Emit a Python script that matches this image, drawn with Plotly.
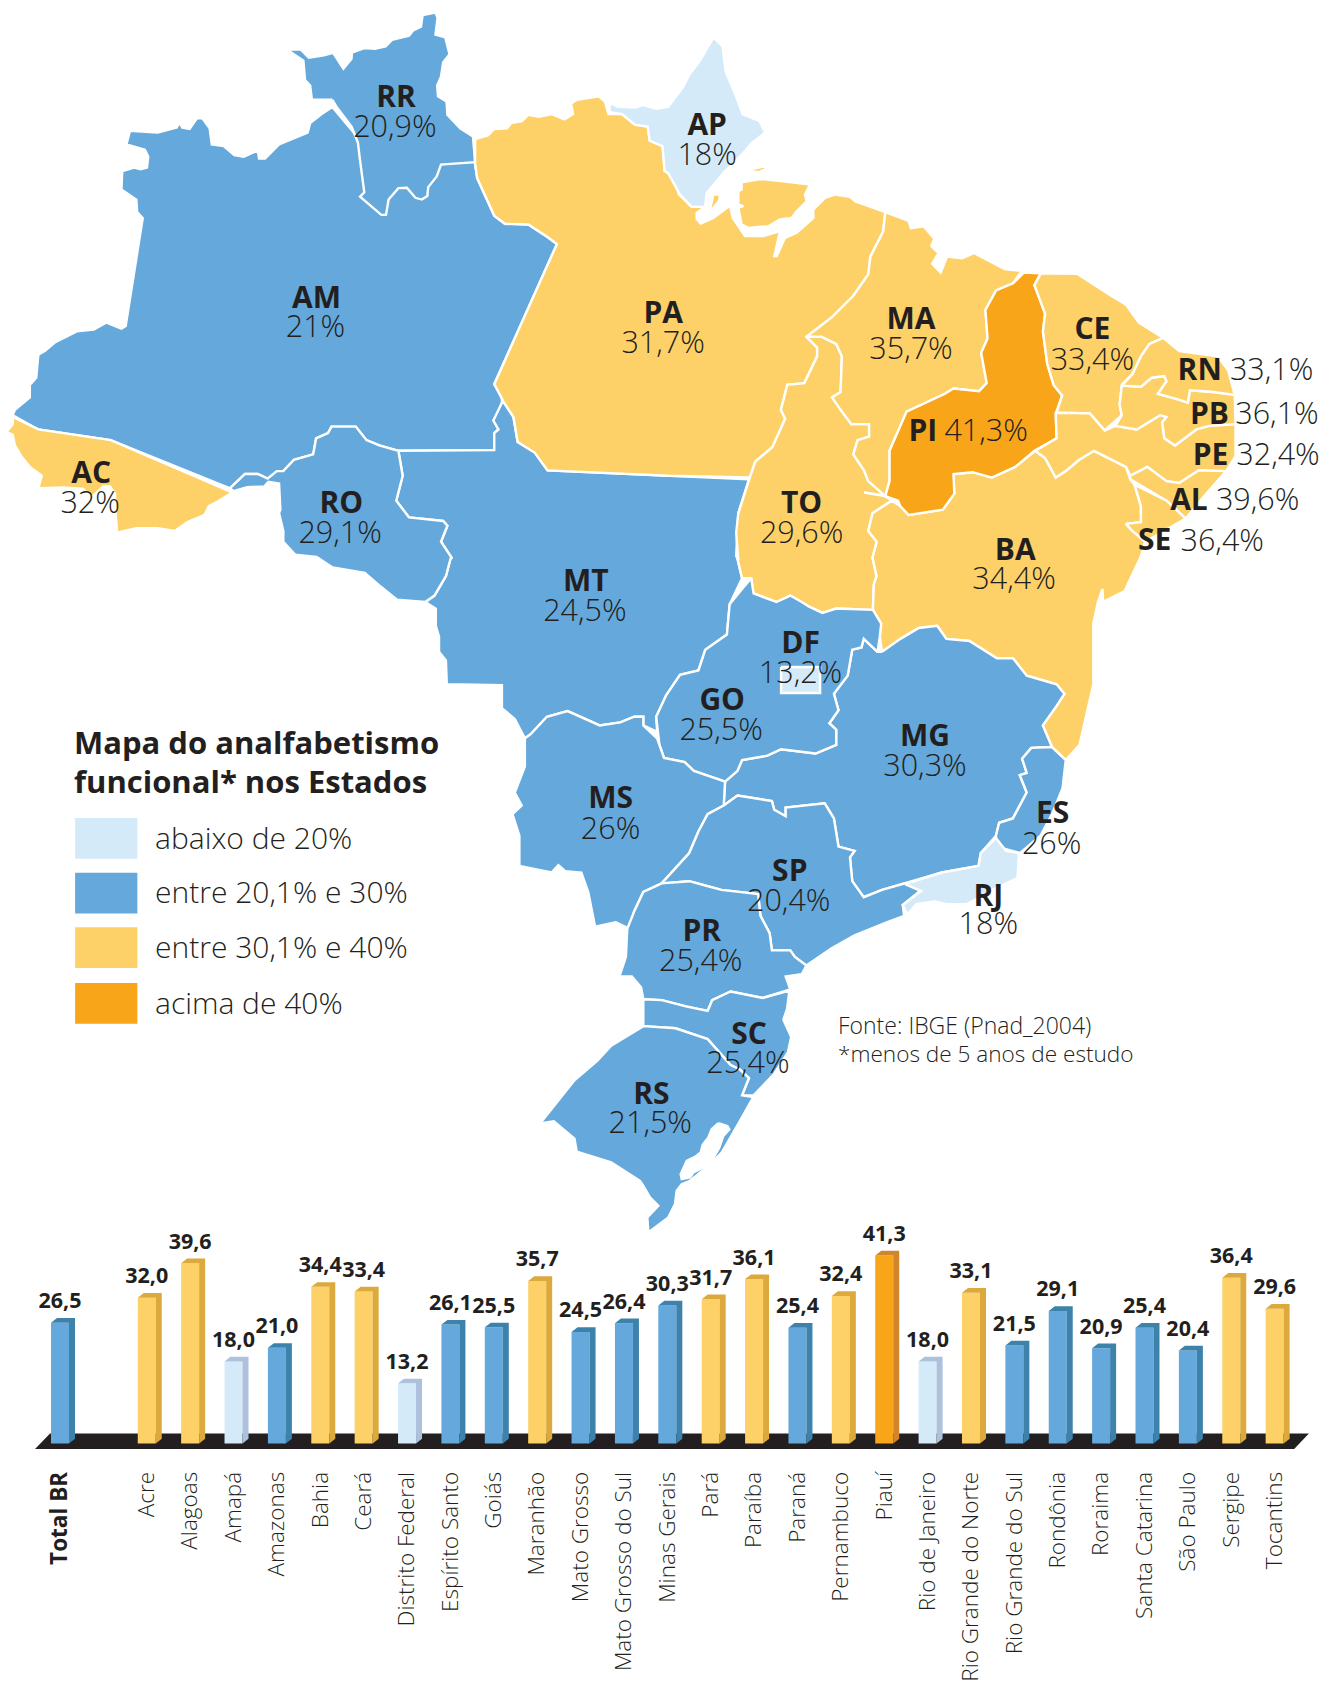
import plotly.graph_objects as go

S = 1336 / 1245
W, H = 1336, 1682
def z1(p): return [(x / 2.347 / S, y / 2.8 / S) for x, y in p]
def z2(p): return [((668 + x / 2.347) / S, y / 2.8 / S) for x, y in p]
def z3(p): return [((400 + x / 2.178) / S, (560 + y / 2.306) / S) for x, y in p]
def z4(p): return [((640 + x / 3) / S, (1060 + y / 3) / S) for x, y in p]
def z5(p): return [((680 + x / 3) / S, (130 + y / 3) / S) for x, y in p]

LIGHT, BLUE, YELLOW, ORANGE = "#d4eaf9", "#64a8dc", "#fdd168", "#f9a51a"
SIDE = {LIGHT: "#adc0dc", BLUE: "#3d82ab", YELLOW: "#dcaa3c", ORANGE: "#d0842c"}
INK = "#231f20"
FONT = "Open Sans"

# ---------- map outlines ----------
AM = z1([(780,300),(755,320),(728,345),(722,372),(655,405),(622,445),(608,445),(605,422),(572,440),(550,435),(525,410),(497,405),(492,360),(475,332),(462,332),(445,362),(428,358),(420,343),(415,358),(370,372),(305,367),(297,405),(340,420),(348,440),(345,470),(330,475),(315,470),(287,480),(285,532),(320,560),(322,595),(335,612),(295,915),(285,922),(250,905),(220,925),(180,930),(130,960),(105,985),(90,995),(85,1060),(70,1080),(70,1115),(35,1150),(30,1165),(90,1205),(260,1235),(540,1370),(575,1330),(605,1330),(628,1343),(650,1322),(665,1322),(690,1290),(735,1275),(742,1230),(770,1215),(778,1197),(835,1197),(860,1235),(890,1250),(935,1265),(1160,1263),(1160,1215),(1170,1205),(1158,1180),(1178,1145),(1178,1110),(1160,1078),(1307,685),(1285,665),(1240,630),(1185,628),(1160,605),(1120,500),(1115,460),(1105,400),(850,400)])
RR = z1([(780,280),(732,280),(728,240),(716,225),(712,170),(675,140),(705,138),(725,162),(760,155),(782,148),(806,193),(825,165),(826,148),(855,135),(880,137),(905,130),(920,112),(960,100),(970,85),(988,75),(992,42),(1022,35),(1027,50),(1022,97),(1045,105),(1055,152),(1040,175),(1035,215),(1026,240),(1028,270),(1048,285),(1050,322),(1080,360),(1110,383),(1115,455),(1035,462),(1025,495),(1005,525),(1003,550),(990,560),(975,555),(955,527),(935,528),(912,560),(906,603),(895,603),(845,552),(855,540),(845,450),(840,400),(825,355),(790,300)])
AC = z1([(30,1170),(90,1205),(260,1235),(545,1382),(510,1408),(490,1420),(480,1445),(440,1465),(410,1490),(370,1482),(320,1482),(275,1495),(270,1420),(270,1385),(258,1365),(242,1365),(215,1395),(195,1372),(150,1368),(90,1370),(98,1335),(70,1310),(50,1280),(35,1250),(30,1220),(15,1212),(30,1190)])
RO = (z1([(548,1378),(580,1367),(620,1365),(630,1352),(655,1357),(658,1430),(655,1440),(665,1490),(665,1520)])
      + [(275,518),(295,520),(310,530),(340,535),(355,548),(370,560)]
      + z3([(55,100),(75,85),(100,40),(110,0)])
      + z1([(1060,1565),(1035,1520),(1050,1475),(1040,1462),(960,1452),(930,1405),(945,1335),(935,1265),(890,1250),(860,1235),(835,1197),(778,1197),(770,1215),(742,1230),(735,1275),(690,1290),(665,1322),(650,1322),(628,1343),(605,1330),(575,1330),(540,1370)]))
MT = (z1([(935,1265),(1160,1263),(1160,1215),(1170,1205),(1158,1180),(1178,1130),(1183,1130),(1205,1170),(1215,1240),(1255,1270),(1285,1320),(1568,1335)])
      + z2([(190,1345),(165,1440),(160,1560)])
      + z3([(735,0),(745,45),(718,105),(712,175),(665,210),(650,258),(610,268),(580,315),(558,365),(560,400),(530,385),(530,365),(510,365),(480,378),(435,385),(365,352),(320,365),(285,405),(272,415),(250,370),(222,345),(222,292),(102,290),(100,235),(85,215),(85,180),(78,155),(78,115),(55,100),(75,85),(100,40),(110,0)])
      + z1([(1060,1565),(1035,1520),(1050,1475),(1040,1462),(960,1452),(930,1405),(945,1335)]))
PA = (z1([(1115,390),(1145,380),(1160,362),(1190,360),(1200,345),(1225,340),(1240,322),(1265,328),(1295,320),(1325,335),(1345,320),(1340,290),(1355,280),(1405,270),(1420,285),(1428,320),(1460,320),(1490,350),(1520,355),(1525,395),(1555,410),(1560,480)])
      + z2([(15,495),(25,545)])
      + z5([(35,232),(75,232),(50,250),(50,268),(62,282),(100,265),(150,228),(158,265),(195,320),(250,320),(300,305),(283,380),(290,380),(315,325),(350,310),(400,265),(400,240),(435,205),(465,195),(510,202)])
      + z2([(440,565),(510,595),(505,650),(475,720),(470,770),(435,830),(385,890),(325,945),(350,975),(350,1000),(320,1075),(280,1080),(265,1150),(275,1175),(245,1255),(205,1295),(192,1340)])
      + z1([(1568,1335),(1285,1320),(1255,1270),(1215,1240),(1205,1170),(1183,1130),(1160,1078),(1307,685),(1285,665),(1240,630),(1185,628),(1160,605),(1120,500),(1115,460)]))
AP = (z1([(1432,288),(1450,300),(1490,302),(1510,295),(1540,305)])
      + z2([(0,300),(35,245),(50,210),(75,170),(95,130),(107,105),(128,130),(135,200),(160,270),(175,320),(215,340),(228,372)])
      + z5([(215,40),(190,70),(130,130),(80,190),(75,232),(35,232),(0,195)])
      + z2([(0,485)])
      + z1([(1560,480),(1555,410),(1525,395),(1520,355),(1490,350),(1460,320),(1430,315)]))
MARAJO = z5([(185,158),(240,148),(310,155),(390,165),(375,195),(380,215),(350,245),(335,265),(300,270),(265,290),(205,295),(185,285),(175,235),(190,230),(175,225),(175,185),(185,180)])
ISLET_A = z5([(215,118),(255,110),(258,118),(235,128),(215,125)])
ISLET_B = z2([(180,295),(190,305),(186,312)])
ISLET_C = z5([(275,132),(295,128),(290,134)])
ISLET_D = z5([(150,150),(170,138),(160,152)])
ISLET_E = z5([(215,85),(228,80),(225,90)])
ISLET_F = z5([(70,245),(90,240),(100,195),(120,195),(118,212),(100,235),(75,252)])
TO = (z2([(325,945),(350,975),(350,1000),(320,1075),(280,1080),(265,1150),(275,1175),(245,1255),(205,1295),(192,1340),(165,1440),(160,1495),(165,1568)])
      + z3([(735,0),(745,45),(765,45),(770,80),(820,100),(850,85),(875,100),(890,110),(920,125),(950,115),(1030,118),(1032,60),(1038,40),(1030,0)])
      + z2([(480,1565),(490,1520),(470,1490),(480,1440),(525,1405),(510,1392),(460,1382),(510,1390),(470,1350),(460,1320),(435,1275),(445,1235),(472,1225),(472,1190),(430,1190),(405,1150),(385,1115),(405,1100),(408,1000),(395,965),(360,945)]))
MA = z2([(510,595),(565,620),(570,640),(600,635),(625,670),(618,690),(635,710),(620,740),(640,765),(655,720),(690,725),(718,710),(790,755),(830,760),(810,795),(770,815),(745,870),(750,950),(735,990),(748,1075),(730,1098),(670,1090),(650,1105),(560,1155),(520,1265),(520,1350),(510,1392),(470,1350),(460,1320),(435,1275),(445,1235),(472,1225),(472,1190),(430,1190),(405,1150),(385,1115),(405,1100),(408,1000),(395,965),(360,945),(325,945),(385,890),(435,830),(470,770),(475,720),(505,650)])
BA = (z2([(525,1405),(545,1420),(565,1445),(600,1438),(645,1430),(672,1385),(670,1330),(715,1325),(760,1340),(815,1310),(862,1265),(885,1285),(910,1340),(935,1320),(965,1290),(1000,1265),(1050,1295),(1075,1310),(1085,1345),(1095,1360),(1110,1420),(1110,1465),(1075,1470),(1090,1490),(1120,1520)])
      + [(1063,520),(1048,552),(1028,562)]
      + z3([(1530,70),(1520,100),(1510,150),(1510,290),(1480,430),(1450,465),(1420,435),(1400,385),(1430,340),(1447,312),(1430,290),(1365,270),(1335,230),(1300,230),(1240,190),(1190,185),(1170,155),(1130,160),(1090,185),(1050,215),(1045,180),(1048,150),(1030,118),(1032,60),(1038,40),(1030,0)])
      + z2([(480,1565),(490,1520),(470,1490),(480,1440)]))
PI = z2([(835,765),(875,767),(860,800),(885,880),(880,930),(890,1020),(905,1080),(925,1110),(910,1160),(912,1230),(860,1265),(815,1310),(760,1340),(715,1325),(670,1330),(672,1385),(645,1430),(600,1438),(565,1445),(545,1420),(540,1405),(510,1392),(520,1350),(520,1265),(560,1155),(650,1105),(670,1090),(730,1098),(748,1075),(735,990),(750,950),(745,870),(770,815),(810,795)])
CE = z2([(875,767),(960,768),(1040,830),(1075,855),(1105,905),(1162,948),(1130,965),(1110,1000),(1090,1050),(1065,1080),(1060,1135),(1065,1165),(1025,1208),(990,1160),(912,1158),(925,1110),(905,1080),(890,1020),(880,930),(885,880),(860,800)])
RN = z2([(1162,948),(1200,985),(1290,1000),(1315,1040),(1330,1108),(1280,1100),(1225,1095),(1220,1130),(1195,1120),(1150,1105),(1170,1070),(1165,1055),(1135,1060),(1110,1085),(1065,1082),(1090,1050),(1110,1000),(1130,965)])
PB = z2([(1065,1082),(1110,1085),(1135,1060),(1165,1055),(1170,1070),(1150,1105),(1195,1120),(1220,1130),(1225,1095),(1280,1100),(1330,1108),(1332,1190),(1270,1195),(1240,1205),(1190,1250),(1165,1230),(1160,1185),(1170,1170),(1155,1165),(1100,1205),(1050,1195),(1065,1165),(1060,1135)])
PE = z2([(912,1158),(990,1160),(1025,1208),(1050,1195),(1100,1205),(1155,1165),(1170,1170),(1160,1185),(1165,1230),(1190,1250),(1240,1205),(1270,1195),(1332,1190),(1332,1280),(1310,1322),(1245,1320),(1200,1355),(1170,1350),(1125,1310),(1085,1335),(1075,1310),(1050,1295),(1000,1265),(965,1290),(935,1320),(910,1340),(885,1285),(862,1265),(912,1230),(910,1160)])
AL = z2([(1085,1335),(1125,1310),(1170,1350),(1200,1355),(1245,1320),(1310,1322),(1260,1390),(1215,1455),(1170,1405),(1085,1345)])
SE = z2([(1095,1360),(1170,1405),(1215,1455),(1185,1475),(1120,1520),(1090,1490),(1075,1470),(1110,1465),(1110,1420)])
MG = z3([(1050,215),(1090,185),(1130,160),(1170,155),(1190,185),(1240,190),(1300,230),(1335,230),(1365,270),(1430,290),(1447,312),(1430,340),(1400,385),(1420,435),(1375,437),(1355,462),(1365,495),(1350,500),(1365,540),(1335,600),(1305,610),(1298,640),(1265,680),(1260,710),(1180,725),(1100,750),(1050,765),(1010,782),(985,745),(980,690),(990,675),(955,665),(945,600),(925,565),(840,575),(840,595),(815,580),(810,560),(735,547),(705,570),(708,515),(735,490),(745,465),(800,455),(830,440),(905,450),(950,430),(950,395),(935,380),(955,350),(945,312),(975,270),(985,210),(1005,205),(1010,185),(1040,215)])
GO = z3([(765,45),(770,80),(820,100),(850,85),(875,100),(890,110),(920,125),(950,115),(1030,118),(1048,150),(1045,180),(1040,215),(1010,185),(1005,205),(985,210),(975,270),(945,312),(955,350),(935,380),(950,395),(950,430),(905,450),(830,440),(800,455),(745,465),(735,490),(708,515),(640,490),(620,470),(575,460),(565,430),(558,365),(580,315),(610,268),(650,258),(665,210),(712,175),(718,105),(745,70)])
DF = z3([(830,250),(915,250),(915,310),(830,310)])
MS = z3([(285,405),(320,365),(365,352),(435,385),(480,378),(510,365),(530,365),(530,385),(560,415),(565,430),(575,460),(620,470),(640,490),(708,515),(705,570),(670,590),(650,630),(630,680),(570,750),(530,770),(510,815),(500,855),(470,840),(425,850),(410,770),(395,725),(360,722),(345,708),(330,725),(260,710),(260,640),(245,590),(265,570),(250,540),(272,480),(272,415)])
SP = z3([(705,570),(735,547),(810,560),(815,580),(840,595),(840,575),(925,565),(945,600),(955,665),(990,675),(980,690),(985,745),(1010,782),(1050,765),(1100,750),(1135,765),(1095,800),(1098,825),(1060,840),(990,870),(940,900),(885,940),(860,920),(850,905),(810,905),(805,865),(785,825),(780,775),(700,765),(665,755),(630,745),(570,750),(630,680),(650,630),(670,590)])
PR = z3([(570,750),(630,745),(665,755),(700,765),(780,775),(785,825),(805,865),(810,905),(850,905),(860,920),(885,940),(875,960),(840,965),(850,995),(790,1015),(720,1000),(680,1020),(670,1045),(625,1035),(570,1020),(530,1018),(525,990),(505,965),(478,965),(492,920),(495,855),(510,815),(530,770)])
SC = z3([(530,1018),(570,1020),(625,1035),(670,1045),(680,1020),(720,1000),(790,1015),(848,998),(843,1040),(835,1065),(852,1105),(845,1140),(815,1190),(770,1240),(745,1240),(760,1200),(740,1180),(720,1170),(670,1110),(600,1085),(530,1080)])
RS = (z3([(530,1080),(600,1085),(670,1110),(720,1170),(740,1180),(760,1200),(745,1240)])
      + z4([(340,118),(300,190),(270,240),(245,285),(205,325),(150,370),(125,380),(110,400),(105,440),(85,480),(25,525),(22,480),(55,445),(30,420),(10,385),(0,370)])
      + z3([(460,1395),(385,1370),(380,1340),(335,1300),(305,1305),(350,1245),(380,1205),(430,1160),(460,1125)]))
LAGOON = z4([(235,197),(262,205),(268,215),(250,235),(238,270),(210,320),(160,345),(150,360),(125,365),(122,350),(140,310),(165,298),(182,285),(188,262),(205,240),(215,215)])
ES = z3([(1375,437),(1420,435),(1450,465),(1443,530),(1420,590),(1395,640),(1350,680),(1300,665),(1298,640),(1305,610),(1335,600),(1365,540),(1350,500),(1365,495),(1355,462)])
RJ = z3([(1298,645),(1320,675),(1348,680),(1345,738),(1290,765),(1235,798),(1190,798),(1165,792),(1125,798),(1105,822),(1095,800),(1135,768),(1100,752),(1180,725),(1260,710),(1265,680)])

MAP_LAYERS = [(AM,BLUE),(RR,BLUE),(AC,YELLOW),(MT,BLUE),(RO,BLUE),(PA,YELLOW),(AP,LIGHT),(MARAJO,YELLOW),(ISLET_A,YELLOW),(ISLET_B,YELLOW),(ISLET_C,YELLOW),(ISLET_D,YELLOW),(ISLET_E,YELLOW),(ISLET_F,YELLOW),
              (TO,YELLOW),(MA,YELLOW),(BA,YELLOW),(PI,ORANGE),(CE,YELLOW),(PE,YELLOW),(PB,YELLOW),(RN,YELLOW),(AL,YELLOW),(SE,YELLOW),
              (MG,BLUE),(GO,BLUE),(DF,LIGHT),(MS,BLUE),(SP,BLUE),(PR,BLUE),(SC,BLUE),(RS,BLUE),(LAGOON,"#ffffff"),(ES,BLUE),(RJ,LIGHT)]

# ---------- map labels ----------
code_text = ["RR","AP","AM","PA","MA","CE","RN","PB","PE","PI","AL","SE","AC","RO","TO","BA","MT","DF","GO","MG","MS","ES","SP","RJ","PR","SC","RS"]
code_x = [369,659,295,618,849,1018,1118,1127,1128,860,1108,1076,85,318,747,946,546,746,673,862,569,981,736,921,654,698,607]
code_y = [93,119,281,295,300,310,348,389,427,405,469,507,444,472,472,516,545,603,656,690,748,762,816,839,872,968,1024]
pct_text = ["20,9%","18%","21%","31,7%","35,7%","33,4%","33,1%","36,1%","32,4%","41,3%","39,6%","36,4%","32%","29,1%","29,6%","34,4%","24,5%","13,2%","25,5%","30,3%","26%","26%","20,4%","18%","25,4%","25,4%","21,5%"]
pct_x = [368,659,294,618,849,1018,1185,1190,1191,919,1172,1139,84,317,747,945,545,746,672,862,569,980,735,921,653,697,606]
pct_y = [121,147,308,323,328,338,348,389,427,405,469,507,472,500,500,543,573,631,684,718,776,790,844,865,900,995,1051]

# ---------- bar chart ----------
bar_names = ["<b>Total BR</b>","Acre","Alagoas","Amapá","Amazonas","Bahia","Ceará","Distrito Federal","Espírito Santo","Goiás","Maranhão","Mato Grosso","Mato Grosso do Sul","Minas Gerais","Pará","Paraíba","Paraná","Pernambuco","Piauí","Rio de Janeiro","Rio Grande do Norte","Rio Grande do Sul","Rondônia","Roraima","Santa Catarina","São Paulo","Sergipe","Tocantins"]
bar_pos = [0] + list(range(2, 29))
bar_values = [26.5,32.0,39.6,18.0,21.0,34.4,33.4,13.2,26.1,25.5,35.7,24.5,26.4,30.3,31.7,36.1,25.4,32.4,41.3,18.0,33.1,21.5,29.1,20.9,25.4,20.4,36.4,29.6]
bar_colors = [BLUE,YELLOW,YELLOW,LIGHT,BLUE,YELLOW,YELLOW,LIGHT,BLUE,BLUE,YELLOW,BLUE,BLUE,BLUE,YELLOW,YELLOW,BLUE,YELLOW,ORANGE,LIGHT,YELLOW,BLUE,BLUE,BLUE,BLUE,BLUE,YELLOW,YELLOW]

PX_X, PX_Y = 43.38, 4.56      # pixels per bar slot / per percentage point
X0, Y0, AXIS_Y = 60, 1446, 1469
BAR_W, DX, DY = 18 / PX_X, 6 / PX_X, 4.7 / PX_Y

fig = go.Figure()
for poly, col in MAP_LAYERS:
    xs = [p[0] for p in poly] + [poly[0][0]]
    ys = [p[1] for p in poly] + [poly[0][1]]
    fig.add_trace(go.Scatter(x=xs, y=ys, mode="lines", fill="toself", fillcolor=col,
                             line=dict(color="#ffffff", width=2.4), hoverinfo="skip", showlegend=False))

fig.add_trace(go.Scatter(x=code_x, y=code_y, text=code_text, mode="text", textposition="middle center",
                         textfont=dict(family=FONT, size=30, color=INK, weight=700), hoverinfo="skip", showlegend=False))
fig.add_trace(go.Scatter(x=pct_x, y=pct_y, text=pct_text, mode="text", textposition="middle center",
                         textfont=dict(family=FONT, size=30.5, color=INK, weight=300), hoverinfo="skip", showlegend=False))

fig.add_trace(go.Bar(x=bar_pos, y=bar_values, width=BAR_W, marker=dict(color=bar_colors, line=dict(width=0)),
                     xaxis="x2", yaxis="y2", hoverinfo="skip", showlegend=False))
for col, side in SIDE.items():
    xs, ys = [], []
    for c, v, bc in zip(bar_pos, bar_values, bar_colors):
        if bc != col:
            continue
        l, r = c - BAR_W / 2, c + BAR_W / 2
        xs += [r, r + DX, r + DX, r, r, None, l, l + DX, r + DX, r, l, None]
        ys += [0, DY, v + DY, v, 0, None, v, v + DY, v + DY, v, v, None]
    fig.add_trace(go.Scatter(x=xs, y=ys, mode="lines", fill="toself", fillcolor=side, line=dict(width=0),
                             xaxis="x2", yaxis="y2", hoverinfo="skip", showlegend=False))
fig.add_trace(go.Scatter(x=bar_pos, y=[v + 2.0 for v in bar_values],
                         text=[f"{v:.1f}".replace(".", ",") for v in bar_values],
                         mode="text", textposition="top center",
                         textfont=dict(family=FONT, size=21.5, color=INK, weight=700),
                         xaxis="x2", yaxis="y2", hoverinfo="skip", showlegend=False))

# ---------- legend, source ----------
legend_labels = ["abaixo de 20%", "entre 20,1% e 30%", "entre 30,1% e 40%", "acima de 40%"]
legend_colors = [LIGHT, BLUE, YELLOW, ORANGE]
legend_y = [783, 834, 885, 937]
shapes = [dict(type="path", xref="x2", yref="y2", layer="below", line=dict(width=0), fillcolor=INK,
               path="M -0.576 -1.25 L -0.23 2.19 L 28.79 2.19 L 28.45 -1.25 Z")]
annotations = []
def note(x, y, text, size, weight=400, anchor="left"):
    annotations.append(dict(x=x, y=y, xref="x", yref="y", text=text, showarrow=False, xanchor=anchor, yanchor="middle",
                            borderpad=0, xshift=-2,
                            font=dict(family=FONT, size=size, color=INK, weight=weight)))
for lab, col, y in zip(legend_labels, legend_colors, legend_y):
    shapes.append(dict(type="rect", xref="x", yref="y", x0=70, x1=128, y0=y - 19, y1=y + 19, fillcolor=col, line=dict(width=0)))
    note(145, y - 1, lab, 30, 300)
note(70, 693, "Mapa do analfabetismo", 31, 700)
note(70, 729, "funcional* nos Estados", 31, 700)
note(782, 957, "Fonte: IBGE (Pnad_2004)", 23, 300)
note(782, 984, "*menos de 5 anos de estudo", 22.6, 300)

fig.update_layout(
    width=W, height=H, margin=dict(l=0, r=0, t=0, b=0), paper_bgcolor="#ffffff", plot_bgcolor="rgba(0,0,0,0)",
    shapes=shapes, annotations=annotations, showlegend=False, barmode="overlay",
    xaxis=dict(range=[0, 1245], domain=[0, 1], visible=False, fixedrange=True),
    yaxis=dict(range=[1568, 0], domain=[0, 1], visible=False, fixedrange=True),
    xaxis2=dict(domain=[0, 1], anchor="y2", range=[-X0 / PX_X, (W - X0) / PX_X], showgrid=False, zeroline=False, showline=False,
                tickmode="array", tickvals=bar_pos, ticktext=bar_names, tickangle=-90, ticks="",
                tickfont=dict(family=FONT, size=22.5, color=INK, weight=300)),
    yaxis2=dict(domain=[(H - AXIS_Y) / H, 1], anchor="x2", range=[(Y0 - AXIS_Y) / PX_Y, Y0 / PX_Y], visible=False),
)
fig.write_html("out.html", config={"displayModeBar": False}, post_script="document.body.style.margin='0';")
